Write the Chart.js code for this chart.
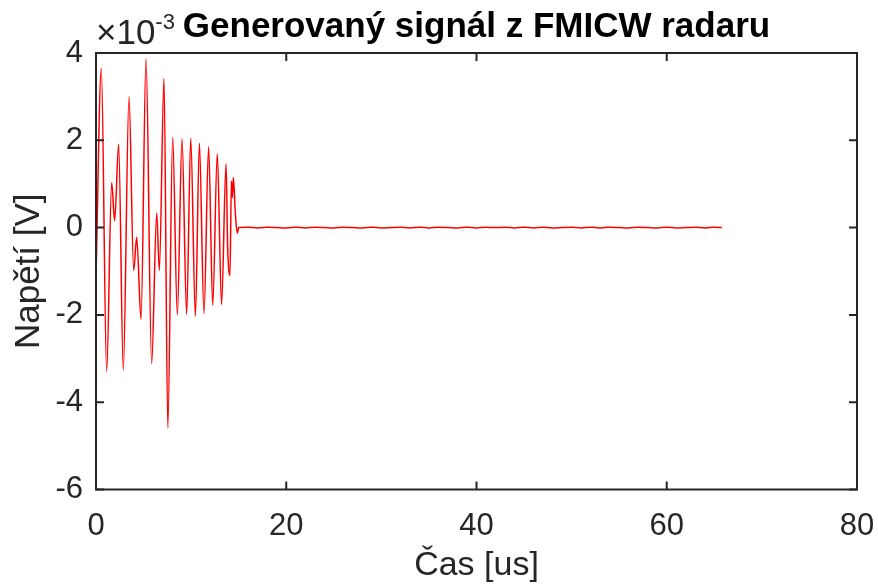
<!DOCTYPE html>
<html>
<head>
<meta charset="utf-8">
<script src="https://cdn.jsdelivr.net/npm/chart.js@4.4.1/dist/chart.umd.min.js"></script>
<style>
    html, body { margin: 0; padding: 0; background: #fff; }
    canvas { display: block; }
</style>
</head>
<body>
<canvas id="myChart" width="878" height="587"></canvas>
<script>
// signal, voltage in 1e-3 V
const burstTimeUs = [0, 0.56, 1.12, 1.65, 1.96, 2.38, 2.87, 3.47, 3.96, 4.28, 4.73, 5.26, 5.85, 6.38, 6.66,
    7.15, 7.55, 8.06, 8.55, 9.04, 9.53, 9.96, 10.45, 10.87, 11.35, 11.84, 12.27, 12.75, 13.2, 13.67, 13.84,
    14.09, 14.23, 14.33, 14.44, 14.65, 14.86, 15.0];
const burstVoltage = [-1.09, 3.65, -3.30, 1.03, 0.16, 1.91, -3.26, 3.00, -0.98, -0.22, -2.10, 3.87, -3.12, 0.33, -0.98,
    3.42, -4.59, 2.07, -2.00, 2.04, -1.98, 2.04, -2.03, 1.93, -1.97, 1.85, -1.78, 1.69, -1.76, 1.46, -0.45,
    -1.09, 1.07, 0.69, 1.15, 0.32, -0.13, 0.0];
const tailTimeUs = [16, 17, 18, 19, 20, 21, 22, 23, 24, 25, 26, 27, 28, 29, 30, 31, 32, 33, 34, 35,
    36, 37, 38, 39, 40, 41, 42, 43, 44, 45, 46, 47, 48, 49, 50, 51, 52, 53, 54, 55,
    56, 57, 58, 59, 60, 61, 62, 63, 64, 65, 65.8];
const tailVoltage = [0.01, -0.01, 0.01, 0.00, -0.01, 0.01, -0.01, 0.01, 0.00, -0.01, 0.01, 0.00, -0.01, 0.01, -0.01,
    0.00, 0.01, -0.01, 0.01, -0.01, 0.01, 0.00, -0.01, 0.01, -0.01, 0.01, 0.00, 0.01, -0.01, 0.01,
    -0.01, 0.01, -0.01, 0.00, 0.01, -0.01, 0.01, -0.01, 0.01, 0.00, -0.01, 0.01, 0.00, -0.01, 0.01,
    -0.01, 0.00, 0.01, -0.01, 0.01, 0.00];
const xTicks = [0, 20, 40, 60, 80];
const yTicks = [-6, -4, -2, 0, 2, 4];

const FONT = "'Liberation Sans', Arial, Helvetica, sans-serif";
const AXIS = '#262626';

const timeUs = burstTimeUs.concat(tailTimeUs);
const voltage = burstVoltage.concat(tailVoltage);

// MATLAB style box with inward ticks, plus the x10^-3 multiplier
const boxPlugin = {
    id: 'box',
    afterDatasetsDraw(chart) {
        const {ctx, chartArea: a, scales: {x, y}} = chart;
        const len = 8;
        ctx.save();
        ctx.strokeStyle = AXIS;
        ctx.lineWidth = 2;
        ctx.beginPath();
        xTicks.forEach(v => {
            const px = x.getPixelForValue(v);
            ctx.moveTo(px, a.bottom); ctx.lineTo(px, a.bottom - len);
            ctx.moveTo(px, a.top); ctx.lineTo(px, a.top + len);
        });
        yTicks.forEach(v => {
            const py = y.getPixelForValue(v);
            ctx.moveTo(a.left, py); ctx.lineTo(a.left + len, py);
            ctx.moveTo(a.right, py); ctx.lineTo(a.right - len, py);
        });
        ctx.stroke();
        ctx.strokeRect(a.left, a.top, a.right - a.left, a.bottom - a.top);

        ctx.fillStyle = AXIS;
        ctx.textBaseline = 'alphabetic';
        ctx.textAlign = 'left';
        ctx.font = '35px ' + FONT;
        ctx.fillText('\u00d710', a.left, 44);
        const w = ctx.measureText('\u00d710').width;
        ctx.font = '22px ' + FONT;
        ctx.fillText('-3', a.left + w, 29);
        ctx.restore();
    }
};

const myChart = new Chart(document.getElementById('myChart'), {
    type: 'scatter',
    data: {
        datasets: [{
            data: timeUs.map((t, i) => ({x: t, y: voltage[i]})),
            showLine: true,
            borderColor: '#ff0000',
            borderWidth: 1.5,
            pointRadius: 0,
            cubicInterpolationMode: 'monotone'
        }]
    },
    options: {
        responsive: false,
        animation: false,
        devicePixelRatio: 1,
        layout: {padding: {top: 0, right: 21, bottom: 0, left: 0}},
        plugins: {
            legend: {display: false},
            tooltip: {enabled: false},
            title: {
                display: true,
                text: 'Generovaný signál z FMICW radaru',
                fullSize: false,
                color: '#000',
                font: {family: FONT, size: 35, weight: 'bold'},
                padding: {top: 6, bottom: 5}
            }
        },
        scales: {
            x: {
                type: 'linear',
                min: 0,
                max: 80,
                afterFit: s => { s.height = 97.5; s.paddingLeft = 0; s.paddingRight = 0; },
                afterBuildTicks: s => { s.ticks = xTicks.map(v => ({value: v})); },
                grid: {display: false},
                border: {display: false},
                ticks: {color: AXIS, font: {family: FONT, size: 31}, padding: 10, maxRotation: 0},
                title: {display: true, text: 'Čas [us]', color: AXIS, font: {family: FONT, size: 34}, padding: {top: 0, bottom: 1}}
            },
            y: {
                type: 'linear',
                min: -6,
                max: 4,
                afterFit: s => { s.width = 96; s.paddingTop = 0; s.paddingBottom = 0; },
                afterBuildTicks: s => { s.ticks = yTicks.map(v => ({value: v})); },
                grid: {display: false},
                border: {display: false},
                ticks: {color: AXIS, font: {family: FONT, size: 31}, padding: 5},
                title: {display: true, text: 'Napětí [V]', color: AXIS, font: {family: FONT, size: 35}, padding: {top: 8, bottom: 0}}
            }
        }
    },
    plugins: [boxPlugin]
});
</script>
</body>
</html>
